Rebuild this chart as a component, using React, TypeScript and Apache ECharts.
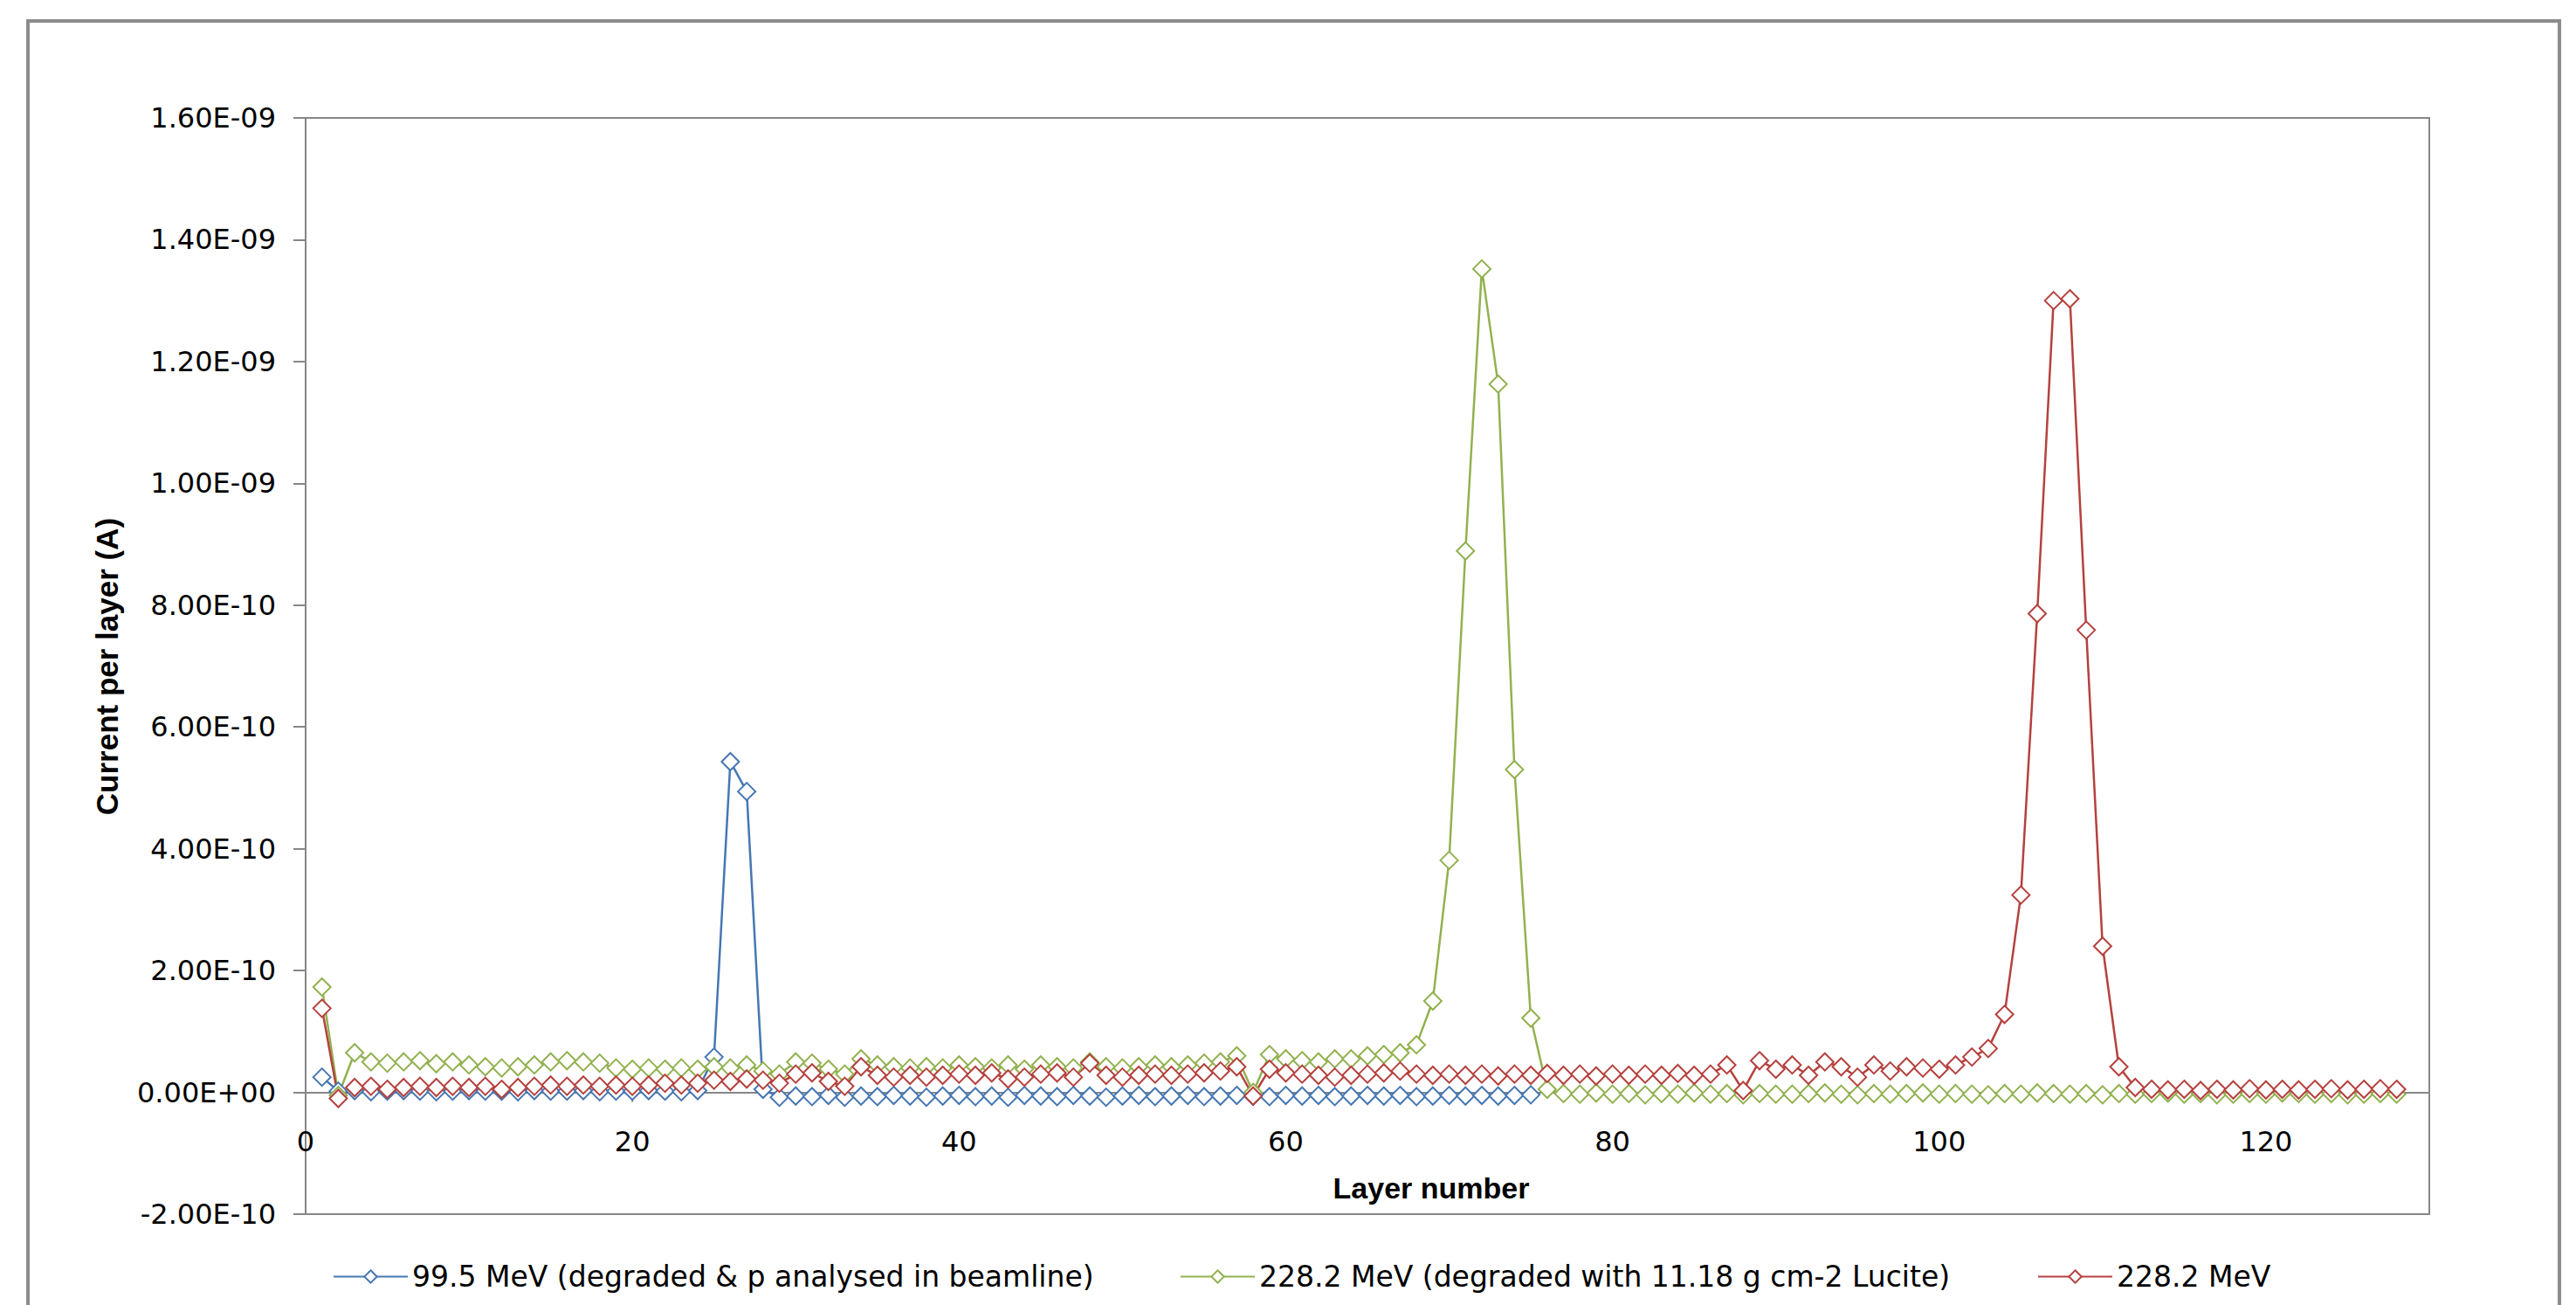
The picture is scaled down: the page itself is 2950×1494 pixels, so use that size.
import React, { useEffect, useRef } from "react";
import * as echarts from "echarts";

// Current per layer, in units of 1e-10 A, for layers 1, 2, 3, ...
const UNIT = 1e-10;

const seriesNames = [
  "99.5 MeV (degraded & p analysed in beamline)",
  "228.2 MeV (degraded with 11.18 g cm-2 Lucite)",
  "228.2 MeV",
];

const blueValues = [
  0.25, 0.02, 0.03, 0.01, 0.02, 0.03, 0.02, 0.01, 0.02, 0.03,
  0.02, 0.02, 0.01, 0.03, 0.02, 0.02, 0.03, 0.01, 0.02, 0.02,
  0.03, 0.02, 0.01, 0.03, 0.58, 5.43, 4.94, 0.05, -0.08, -0.06,
  -0.07, -0.05, -0.08, -0.06, -0.07, -0.05, -0.06, -0.08, -0.06, -0.05,
  -0.07, -0.06, -0.08, -0.05, -0.06, -0.07, -0.05, -0.06, -0.08, -0.06,
  -0.05, -0.07, -0.06, -0.05, -0.07, -0.06, -0.05, -0.06, -0.07, -0.05,
  -0.06, -0.05, -0.07, -0.06, -0.05, -0.06, -0.05, -0.07, -0.06, -0.05,
  -0.06, -0.05, -0.06, -0.05, -0.04,
];

const greenValues = [
  1.73, -0.05, 0.65, 0.5, 0.48, 0.5, 0.52, 0.47, 0.5, 0.45,
  0.42, 0.4, 0.42, 0.45, 0.5, 0.52, 0.5, 0.48, 0.4, 0.38,
  0.4, 0.38, 0.4, 0.38, 0.42, 0.4, 0.45, 0.35, 0.3, 0.5,
  0.48, 0.38, 0.3, 0.55, 0.45, 0.42, 0.4, 0.42, 0.4, 0.45,
  0.42, 0.4, 0.45, 0.38, 0.45, 0.42, 0.4, 0.5, 0.42, 0.4,
  0.42, 0.45, 0.42, 0.45, 0.48, 0.5, 0.6, 0.0, 0.62, 0.55,
  0.52, 0.5, 0.55, 0.55, 0.6, 0.62, 0.65, 0.78, 1.5, 3.81,
  8.89, 13.52, 11.63, 5.3, 1.22, 0.05, -0.02, -0.03, -0.01, -0.03,
  -0.02, -0.04, -0.02, -0.03, -0.01, -0.03, -0.02, -0.04, -0.02, -0.03,
  -0.03, -0.02, -0.01, -0.03, -0.04, -0.02, -0.03, -0.02, -0.01, -0.03,
  -0.02, -0.03, -0.04, -0.02, -0.03, -0.01, -0.02, -0.03, -0.02, -0.04,
  -0.02, -0.03, -0.02, -0.01, -0.03, -0.02, -0.04, -0.03, -0.02, -0.03,
  -0.01, -0.02, -0.03, -0.02, -0.04, -0.03, -0.02, -0.03,
];

const redValues = [
  1.38, -0.1, 0.08, 0.1, 0.05, 0.08, 0.1, 0.08, 0.1, 0.08,
  0.1, 0.05, 0.08, 0.1, 0.12, 0.1, 0.12, 0.1, 0.12, 0.1,
  0.12, 0.15, 0.12, 0.15, 0.2, 0.18, 0.22, 0.2, 0.15, 0.3,
  0.32, 0.18, 0.1, 0.42, 0.28, 0.25, 0.28, 0.25, 0.28, 0.3,
  0.28, 0.32, 0.22, 0.25, 0.3, 0.32, 0.25, 0.48, 0.28, 0.25,
  0.28, 0.3, 0.28, 0.3, 0.32, 0.35, 0.42, -0.06, 0.38, 0.32,
  0.3, 0.28, 0.25, 0.28, 0.3, 0.32, 0.35, 0.3, 0.28, 0.3,
  0.28, 0.3, 0.27, 0.3, 0.28, 0.31, 0.28, 0.3, 0.27, 0.3,
  0.28, 0.3, 0.28, 0.31, 0.28, 0.3, 0.45, 0.03, 0.52, 0.38,
  0.45, 0.28, 0.5, 0.42, 0.25, 0.45, 0.35, 0.42, 0.4, 0.38,
  0.45, 0.58, 0.72, 1.28, 3.24, 7.86, 13.0, 13.03, 7.59, 2.4,
  0.42, 0.08, 0.05, 0.04, 0.05, 0.03, 0.05, 0.04, 0.06, 0.04,
  0.05, 0.04, 0.05, 0.06, 0.04, 0.05, 0.06, 0.05,
];

const seriesColors = ["#4677B2", "#92B150", "#B5413E"];
const seriesValues = [blueValues, greenValues, redValues];

const xMin = 0;
const xMax = 130;
const xStep = 20;
const xTickValues = [0, 20, 40, 60, 80, 100, 120];
const yMin = -2e-10;
const yMax = 1.6e-9;
const yStep = 2e-10;

const yTitle = "Current per layer (A)";
const xTitle = "Layer number";

const fmtExp = (v: number) => {
  const s = v.toExponential(2);
  const [m, e] = s.split("e");
  const sign = e[0] === "-" ? "-" : "+";
  const digits = e.replace(/^[+-]/, "").padStart(2, "0");
  return `${m}E${sign}${digits}`;
};

export default function App() {
  const ref = useRef<HTMLDivElement>(null);

  useEffect(() => {
    if (!ref.current) return;
    const chart = echarts.init(ref.current, undefined, { renderer: "svg" });

    const tickFont = { fontFamily: "DejaVu Sans", fontSize: 32, color: "#000" };

    const series: any[] = seriesValues.map((vals, si) => ({
      name: seriesNames[si],
      type: "line",
      data: vals.map((v, i) => [i + 1, v * UNIT]),
      symbol: "emptyDiamond",
      symbolSize: 20,
      showSymbol: true,
      color: seriesColors[si],
      lineStyle: { color: seriesColors[si], width: 2.5 },
      itemStyle: { color: seriesColors[si], borderWidth: 2 },
      emphasis: { disabled: true },
    }));

    // x-axis tick marks hanging below the zero line
    series.unshift({
      name: "xTicks",
      type: "custom",
      silent: true,
      clip: false,
      data: xTickValues.map((v) => [v, 0]),
      renderItem: (_params: any, api: any) => {
        const p = api.coord([api.value(0), api.value(1)]);
        return {
          type: "line",
          shape: { x1: p[0], y1: p[1], x2: p[0], y2: p[1] + 11 },
          style: { stroke: "#868686", lineWidth: 2 },
        };
      },
    });

    const legendLefts = [376, 1346, 2328];

    chart.setOption({
      animation: false,
      backgroundColor: "#ffffff",
      grid: {
        left: 350,
        top: 135,
        width: 2432,
        height: 1255,
        show: true,
        borderColor: "#868686",
        borderWidth: 2,
        backgroundColor: "transparent",
      },
      xAxis: {
        type: "value",
        min: xMin,
        max: xMax,
        interval: xStep,
        axisLine: { show: true, onZero: true, lineStyle: { color: "#868686", width: 2 } },
        axisTick: { show: false },
        axisLabel: { ...tickFont, margin: -99, showMaxLabel: false },
        splitLine: { show: false },
      },
      yAxis: {
        type: "value",
        min: yMin,
        max: yMax,
        interval: yStep,
        axisLine: { show: true, onZero: false, lineStyle: { color: "#868686", width: 2 } },
        axisTick: { show: true, inside: false, length: 14, lineStyle: { color: "#868686", width: 2 } },
        axisLabel: { ...tickFont, margin: 34, formatter: (v: number) => fmtExp(v) },
        splitLine: { show: false },
      },
      legend: seriesNames.map((n, i) => ({
        data: [n],
        left: legendLefts[i],
        top: 1440,
        itemWidth: 85,
        itemHeight: 18,
        itemGap: 0,
        selectedMode: false,
        textStyle: { fontFamily: "DejaVu Sans", fontSize: 33, color: "#000" },
      })),
      graphic: [
        {
          type: "rect",
          silent: true,
          shape: { x: 32, y: 24, width: 2899, height: 1520 },
          style: { fill: "none", stroke: "#8c8c8c", lineWidth: 4 },
        },
        {
          type: "text",
          silent: true,
          x: 122,
          y: 763,
          rotation: Math.PI / 2,
          style: {
            text: yTitle,
            font: "bold 35px 'Liberation Sans', Arial, sans-serif",
            fill: "#000",
            align: "center",
            verticalAlign: "middle",
          },
        },
        {
          type: "text",
          silent: true,
          x: 1639,
          y: 1360,
          style: {
            text: xTitle,
            font: "bold 34px 'Liberation Sans', Arial, sans-serif",
            fill: "#000",
            align: "center",
            verticalAlign: "middle",
          },
        },
      ],
      series,
    });

    return () => chart.dispose();
  }, []);

  return (
    <div
      ref={ref}
      style={{ position: "fixed", left: 0, top: 0, width: 2950, height: 1494, background: "#fff" }}
    />
  );
}
